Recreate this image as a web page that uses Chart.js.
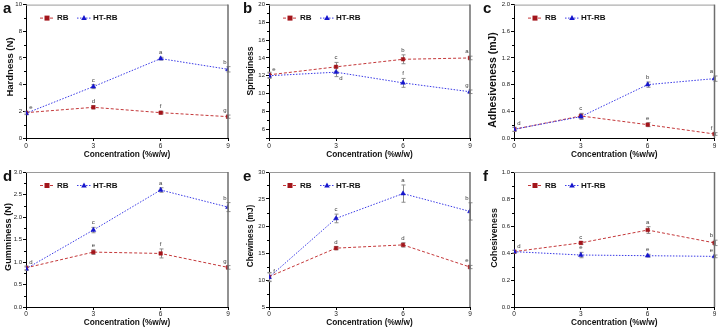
<!DOCTYPE html>
<html>
<head>
<meta charset="utf-8">
<script src="https://cdn.jsdelivr.net/npm/chart.js@4.4.1/dist/chart.umd.min.js"></script>
<style>
  html, body { margin: 0; padding: 0; background: #fff; }
  #wrap { position: relative; width: 719px; height: 330px; }
  .panel { position: absolute; }
</style>
</head>
<body>
<div id="wrap"></div>
<script>
// x values shared by every panel
const concentrations = [0, 3, 6, 9];

// a - Hardness (N)
const hardnessRB = [1.9, 2.3, 1.9, 1.6];
const hardnessHT = [1.85, 3.85, 5.95, 5.15];
const hardnessRBErr = [0.1, 0.12, 0.1, 0.12];
const hardnessHTErr = [0.1, 0.15, 0.1, 0.2];
const hardnessRBLetters = ["e", "d", "f", "g"];
const hardnessHTLetters = [null, "c", "a", "b"];

// b - Springiness
const springRB = [12.1, 13.0, 13.85, 14.0];
const springHT = [12.0, 12.4, 11.2, 10.2];
const springRBErr = [0.3, 0.5, 0.5, 0.2];
const springHTErr = [0.3, 0.5, 0.5, 0.2];
const springRBLetters = ["e", "c", "b", "a"];
const springHTLetters = [null, "d", "f", "g"];

// c - Adhesiveness (mJ)
const adhesRB = [0.13, 0.33, 0.2, 0.06];
const adhesHT = [0.13, 0.32, 0.8, 0.89];
const adhesRBErr = [0.03, 0.04, 0.03, 0.02];
const adhesHTErr = [0.03, 0.04, 0.04, 0.04];
const adhesRBLetters = ["d", "c", "e", "f"];
const adhesHTLetters = [null, null, "b", "a"];

// d - Gumminess (N)
const gumRB = [0.87, 1.22, 1.19, 0.88];
const gumHT = [0.85, 1.71, 2.6, 2.22];
const gumRBErr = [0.04, 0.05, 0.1, 0.04];
const gumHTErr = [0.04, 0.06, 0.05, 0.1];
const gumRBLetters = ["d", "e", "f", "g"];
const gumHTLetters = [null, "c", "a", "b"];

// e - Chewiness (mJ)
const chewRB = [10.6, 15.9, 16.5, 12.4];
const chewHT = [10.5, 21.4, 26.0, 22.7];
const chewRBErr = [0.8, 0.3, 0.4, 0.3];
const chewHTErr = [0.8, 0.8, 1.6, 1.6];
const chewRBLetters = ["f", "d", "d", "e"];
const chewHTLetters = [null, "c", "a", "b"];

// f - Cohesiveness
const cohRB = [0.41, 0.475, 0.57, 0.475];
const cohHT = [0.41, 0.385, 0.38, 0.375];
const cohRBErr = [0.01, 0.01, 0.025, 0.02];
const cohHTErr = [0.01, 0.02, 0.01, 0.01];
const cohRBLetters = ["d", "c", "a", "b"];
const cohHTLetters = [null, "e", "e", "e"];

const RB_LINE = "#c4383a";
const RB_POINT = "#a3151b";
const HT_LINE = "#3b3be6";
const HT_POINT = "#1515cc";
const FONT = "'Liberation Sans', Arial, sans-serif";

Chart.defaults.font.family = FONT;

const panels = [
  { id: "a", x: 0, y: 0, w: 240, area: [26, 4, 228, 138], title: "Hardness (N)", titleSize: 9.5, titlePos: [10, 67],
    min: 0, max: 10, step: 2, dec: 0, rb: hardnessRB, ht: hardnessHT, rbErr: hardnessRBErr, htErr: hardnessHTErr,
    rbLet: hardnessRBLetters, htLet: hardnessHTLetters, below: [] },
  { id: "b", x: 240, y: 0, w: 240, area: [29, 3, 230, 138], title: "Springiness", titleSize: 8.6, titlePos: [11, 71],
    min: 5, max: 20, step: 2, dec: 0, rb: springRB, ht: springHT, rbErr: springRBErr, htErr: springHTErr,
    rbLet: springRBLetters, htLet: springHTLetters, below: ["ht1"] },
  { id: "c", x: 480, y: 0, w: 239, area: [34, 4, 236, 138], title: "Adhesiveness (mJ)", titleSize: 10.5, titlePos: [13, 80],
    min: 0, max: 2, step: 0.4, dec: 1, rb: adhesRB, ht: adhesHT, rbErr: adhesRBErr, htErr: adhesHTErr,
    rbLet: adhesRBLetters, htLet: adhesHTLetters, below: [] },
  { id: "d", x: 0, y: 165, w: 240, area: [26, 7, 228, 142], title: "Gumminess (N)", titleSize: 9.2, titlePos: [8, 72],
    min: 0, max: 3, step: 0.5, dec: 1, rb: gumRB, ht: gumHT, rbErr: gumRBErr, htErr: gumHTErr,
    rbLet: gumRBLetters, htLet: gumHTLetters, below: [] },
  { id: "e", x: 240, y: 165, w: 240, area: [29, 7, 230, 142], title: "Chewiness (mJ)", titleSize: 8.2, titlePos: [11, 71],
    min: 5, max: 30, step: 5, dec: 0, rb: chewRB, ht: chewHT, rbErr: chewRBErr, htErr: chewHTErr,
    rbLet: chewRBLetters, htLet: chewHTLetters, below: [] },
  { id: "f", x: 480, y: 165, w: 239, area: [34, 7, 236, 142], title: "Cohesiveness", titleSize: 8.9, titlePos: [15, 73],
    min: 0, max: 1, step: 0.2, dec: 1, rb: cohRB, ht: cohHT, rbErr: cohRBErr, htErr: cohHTErr,
    rbLet: cohRBLetters, htLet: cohHTLetters, below: [] },
];

function drawMarker(ctx, style, x, y, color) {
  ctx.fillStyle = color;
  ctx.beginPath();
  if (style === "rect") {
    ctx.rect(x - 2.5, y - 2.5, 5, 5);
  } else {
    ctx.moveTo(x, y - 3);
    ctx.lineTo(x + 2.8, y + 2);
    ctx.lineTo(x - 2.8, y + 2);
    ctx.closePath();
  }
  ctx.fill();
}

const decorPlugin = {
  id: "decor",
  // error bars sit behind the markers
  beforeDatasetsDraw(chart) {
    const ctx = chart.ctx, xs = chart.scales.x, ys = chart.scales.y;
    ctx.save();
    ctx.strokeStyle = "#8c8c8c";
    ctx.lineWidth = 1;
    chart.data.datasets.forEach(ds => {
      ds.data.forEach((pt, i) => {
        const e = ds.errors[i];
        const x = Math.round(xs.getPixelForValue(pt.x)) + 0.5;
        const y1 = ys.getPixelForValue(pt.y - e), y2 = ys.getPixelForValue(pt.y + e);
        ctx.beginPath();
        ctx.moveTo(x, y1); ctx.lineTo(x, y2);
        ctx.moveTo(x - 2, y1); ctx.lineTo(x + 2, y1);
        ctx.moveTo(x - 2, y2); ctx.lineTo(x + 2, y2);
        ctx.stroke();
      });
    });
    ctx.restore();
  },
  afterDraw(chart) {
    const p = chart.options.plugins.decor.panel;
    const ctx = chart.ctx, xs = chart.scales.x, ys = chart.scales.y;
    const area = chart.chartArea;
    ctx.save();

    // grey frame on top and right
    ctx.strokeStyle = "#9a9a9a";
    ctx.lineWidth = 1;
    ctx.beginPath();
    ctx.moveTo(area.left, area.top + 0.5); ctx.lineTo(area.right, area.top + 0.5);
    ctx.stroke();
    ctx.strokeStyle = "#6e6e6e";
    ctx.lineWidth = 1.5;
    ctx.beginPath();
    ctx.moveTo(area.right, area.top); ctx.lineTo(area.right, area.bottom);
    ctx.stroke();

    // minor y ticks halfway between majors
    ctx.strokeStyle = "#000";
    ctx.lineWidth = 1;
    ctx.beginPath();
    for (let v = Math.ceil(p.min / p.step) * p.step + p.step / 2; v < p.max; v += p.step) {
      const y = Math.round(ys.getPixelForValue(v)) + 0.5;
      ctx.moveTo(area.left - 2, y); ctx.lineTo(area.left, y);
    }
    ctx.stroke();

    // significance letters
    ctx.fillStyle = "#3a3a3a";
    ctx.font = "6px " + FONT;
    ctx.textAlign = "center";
    ctx.textBaseline = "alphabetic";
    chart.data.datasets.forEach(ds => {
      ds.data.forEach((pt, i) => {
        const t = ds.letters[i];
        if (!t) return;
        let x = xs.getPixelForValue(pt.x);
        let y = ys.getPixelForValue(pt.y + ds.errors[i]) - 3;
        if (i === 0) { x += 5; y = ys.getPixelForValue(pt.y) - 4; }
        if (i === concentrations.length - 1) x -= 3;
        if (p.below.includes(ds.key + i)) { x += 5; y = ys.getPixelForValue(pt.y) + 8; }
        ctx.fillText(t, x, y);
      });
    });

    // legend inside the plot
    const ly = area.top + 13;
    const items = [
      { label: "RB", line: RB_LINE, point: RB_POINT, style: "rect", dash: [3, 2], x0: 14, x1: 28, m: 21, tx: 31 },
      { label: "HT-RB", line: HT_LINE, point: HT_POINT, style: "triangle", dash: [1.5, 1.5], x0: 51, x1: 65, m: 58, tx: 67 },
    ];
    items.forEach(it => {
      ctx.strokeStyle = it.line;
      ctx.setLineDash(it.dash);
      ctx.lineWidth = 1;
      ctx.beginPath();
      ctx.moveTo(area.left + it.x0, ly + 0.5); ctx.lineTo(area.left + it.x1, ly + 0.5);
      ctx.stroke();
      ctx.setLineDash([]);
      drawMarker(ctx, it.style, area.left + it.m, ly + 0.5, it.point);
      ctx.fillStyle = "#111";
      ctx.font = "bold 8px " + FONT;
      ctx.textAlign = "left";
      ctx.textBaseline = "middle";
      ctx.fillText(it.label, area.left + it.tx, ly + 0.5);
    });

    // axis titles and panel letter
    ctx.fillStyle = "#111";
    ctx.textAlign = "center";
    ctx.textBaseline = "middle";
    ctx.font = "bold 8.3px " + FONT;
    ctx.fillText("Concentration (%w/w)", (area.left + area.right) / 2, p.y === 0 ? 155 : 157.5);
    ctx.save();
    ctx.translate(p.titlePos[0], p.titlePos[1]);
    ctx.rotate(-Math.PI / 2);
    ctx.font = "bold " + p.titleSize + "px " + FONT;
    ctx.fillText(p.title, 0, 0);
    ctx.restore();
    ctx.font = "bold 15px " + FONT;
    ctx.textAlign = "left";
    ctx.textBaseline = "alphabetic";
    ctx.fillText(p.id, 3, p.y === 0 ? 13 : 16);

    ctx.restore();
  }
};

function makeSeries(key, label, values, errors, letters, line, point, style, dash, order) {
  return {
    key, label, errors, letters, order,
    data: concentrations.map((c, i) => ({ x: c, y: values[i] })),
    borderColor: line,
    borderWidth: 1,
    borderDash: dash,
    pointStyle: style,
    pointRadius: style === "rect" ? 2.5 : 2.8,
    pointBackgroundColor: point,
    pointBorderColor: point,
    pointBorderWidth: 0.5,
    fill: false,
    tension: 0,
  };
}

const wrap = document.getElementById("wrap");
panels.forEach(p => {
  const box = document.createElement("div");
  box.className = "panel";
  box.style.left = p.x + "px";
  box.style.top = p.y + "px";
  const canvas = document.createElement("canvas");
  canvas.width = p.w;
  canvas.height = 165;
  canvas.style.width = p.w + "px";
  canvas.style.height = "165px";
  box.appendChild(canvas);
  wrap.appendChild(box);

  const [left, top, right, bottom] = p.area;
  new Chart(canvas.getContext("2d"), {
    type: "line",
    data: {
      datasets: [
        makeSeries("rb", "RB", p.rb, p.rbErr, p.rbLet, RB_LINE, RB_POINT, "rect", [3, 2], 1),
        makeSeries("ht", "HT-RB", p.ht, p.htErr, p.htLet, HT_LINE, HT_POINT, "triangle", [1.5, 1.5], 0),
      ],
    },
    options: {
      responsive: false,
      animation: false,
      devicePixelRatio: 1,
      layout: { padding: { left: 0, top: top, right: p.w - right, bottom: 0 } },
      plugins: {
        legend: { display: false },
        tooltip: { enabled: false },
        decor: { panel: p },
      },
      scales: {
        x: {
          type: "linear",
          min: 0,
          max: 9,
          ticks: { stepSize: 3, color: "#222", font: { size: 6.5 }, padding: p.y === 0 ? 1 : 0, maxRotation: 0 },
          grid: { drawOnChartArea: false, tickLength: 3, color: "#000" },
          border: { color: "#000", width: 1 },
          afterFit: s => { s.height = 165 - bottom; },
        },
        y: {
          min: p.min,
          max: p.max,
          ticks: {
            stepSize: p.step,
            color: "#222",
            font: { size: 6 },
            padding: 1,
            autoSkip: false,
            callback: v => (p.id === "b" && v === 5) ? "" : Number(v).toFixed(p.dec),
          },
          grid: { drawOnChartArea: false, tickLength: 3, color: "#000" },
          border: { color: "#000", width: 1 },
          afterFit: s => { s.width = left; },
        },
      },
    },
    plugins: [decorPlugin],
  });
});
</script>
</body>
</html>
